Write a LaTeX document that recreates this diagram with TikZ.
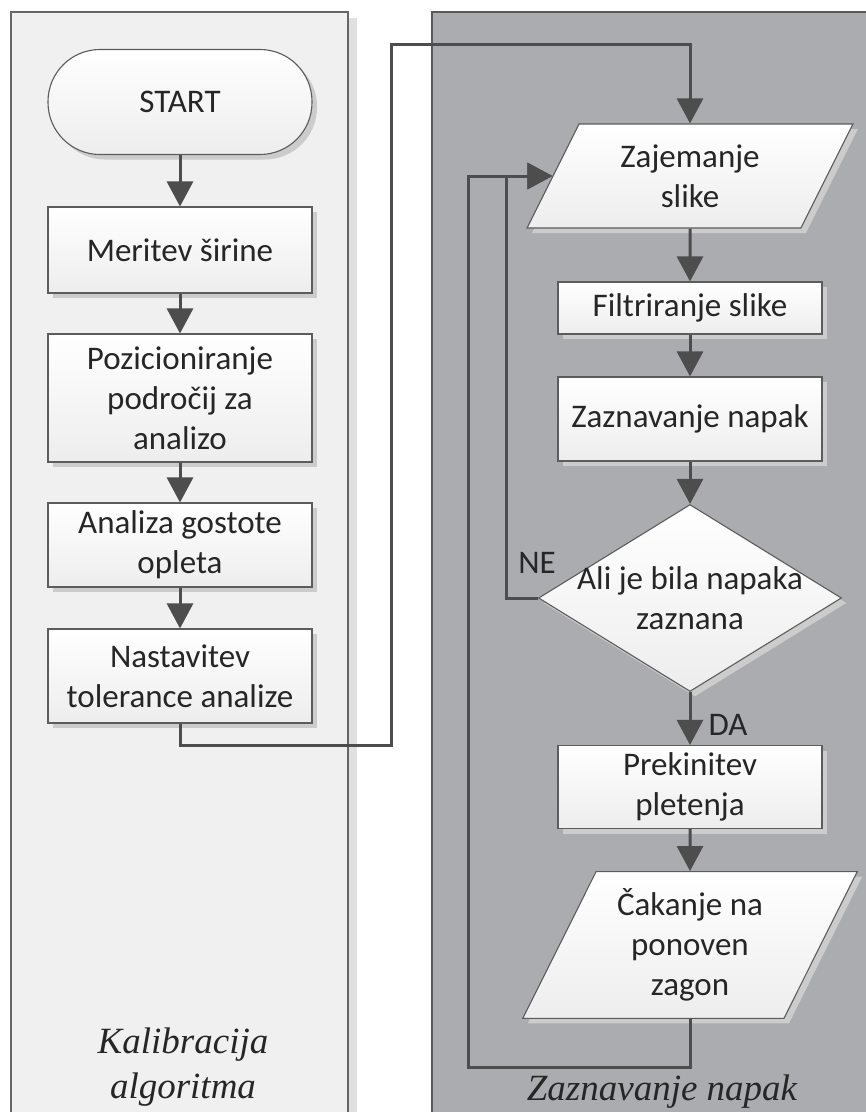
\documentclass[tikz,border=0pt]{standalone}
\usepackage{fontspec}
\setmainfont{Carlito}
\newfontfamily\lblfont{Liberation Serif}
\usetikzlibrary{shapes.geometric, arrows.meta, shadows}
\definecolor{lanebg}{HTML}{F0F0F0}
\definecolor{darklane}{HTML}{ABACAF}
\definecolor{edgegray}{HTML}{5C5C5C}
\definecolor{flowgray}{HTML}{4D4D4D}
\definecolor{txtgray}{HTML}{262626}

\begin{document}
\begin{tikzpicture}[x=1pt, y=-1pt,
    box/.style={draw=edgegray, line width=1.1pt, top color=white, bottom color=black!7,
        text=txtgray, align=center, inner sep=2pt, minimum width=264pt,
        font=\fontsize{33}{40}\selectfont,
        drop shadow={shadow xshift=5pt, shadow yshift=-5pt, fill=black!20, opacity=1}},
    term/.style={box, rounded corners=52pt, minimum height=105pt},
    proc/.style={box},
    io/.style={box, trapezium, trapezium left angle=63.4, trapezium right angle=116.6},
    decision/.style={box, diamond, minimum width=303pt, minimum height=187pt, inner sep=0pt},
    flow/.style={draw=flowgray, line width=3pt, -{Triangle[length=25pt, width=26pt]}},
    plain/.style={text=txtgray, align=center, font=\fontsize{33}{40}\selectfont},
    lanelbl/.style={text=txtgray, align=center, font=\lblfont\itshape\fontsize{37}{45}\selectfont}]

    % okvir slike
    \clip (0,0) rectangle (866,1112);

    % pasova
    \fill[black!12] (348,18) rectangle (357,1130);
    \draw[fill=lanebg, draw=black!60, line width=1.2pt] (11,12) rectangle (348,1130);
    \draw[fill=darklane, draw=black!65, line width=1.2pt] (432,12) rectangle (880,1130);

    % kalibracija
    \node[term] (start) at (180,102) {START};
    \node[proc, minimum height=86pt] (mer) at (180,250) {Meritev širine};
    \node[proc, minimum height=128pt] (poz) at (180,398) {Pozicioniranje\\področij za\\analizo};
    \node[proc, minimum height=84pt] (ana) at (180,545) {Analiza gostote\\opleta};
    \node[proc, minimum height=94pt] (nas) at (180,676) {Nastavitev\\tolerance analize};

    % zaznavanje
    \node[io, minimum width=316pt, minimum height=104pt] (zaj) at (690,176) {Zajemanje\\slike};
    \node[proc, minimum height=52pt] (fil) at (690,308) {Filtriranje slike};
    \node[proc, minimum height=84pt] (zaz) at (690,419) {Zaznavanje napak};
    \node[decision] (dec) at (690,598) {};
    \node[plain] (dectxt) at (dec.center) {Ali je bila napaka\\zaznana};
    \node[proc, minimum height=83pt] (pre) at (690,787) {Prekinitev\\pletenja};
    \node[io, minimum width=336pt, minimum height=146pt] (cak) at (690,945) {Čakanje na\\ponoven\\zagon};

    % oznake
    \node[plain] (ne) at (537,563) {NE};
    \node[plain] (da) at (728,725) {DA};
    \node[lanelbl] (kal) at (183,1067) {Kalibracija\\algoritma};
    \node[lanelbl] (zlbl) at (662,1092) {Zaznavanje napak};

    % povezave
    \draw[flow] (start.south) -- (mer.north);
    \draw[flow] (mer.south) -- (poz.north);
    \draw[flow] (poz.south) -- (ana.north);
    \draw[flow] (ana.south) -- (nas.north);

    \coordinate (upB) at (391,745);
    \coordinate (upT) at (391,44);
    \draw[flow] (nas.south) |- (upB) -- (upT) -| (zaj.north);

    \draw[flow] (zaj.south) -- (fil.north);
    \draw[flow] (fil.south) -- (zaz.north);
    \draw[flow] (zaz.south) -- (dec.north);
    \draw[flow] (dec.south) -- (pre.north);
    \draw[flow] (pre.south) -- (cak.north);

    \coordinate (neC) at (506,598);
    \draw[flow] (dec.west) -- (neC) |- (zaj.west);
    \coordinate (loopC) at (468,1067);
    \draw[flow] (cak.south) |- (loopC) |- (zaj.west);

\end{tikzpicture}
\end{document}
